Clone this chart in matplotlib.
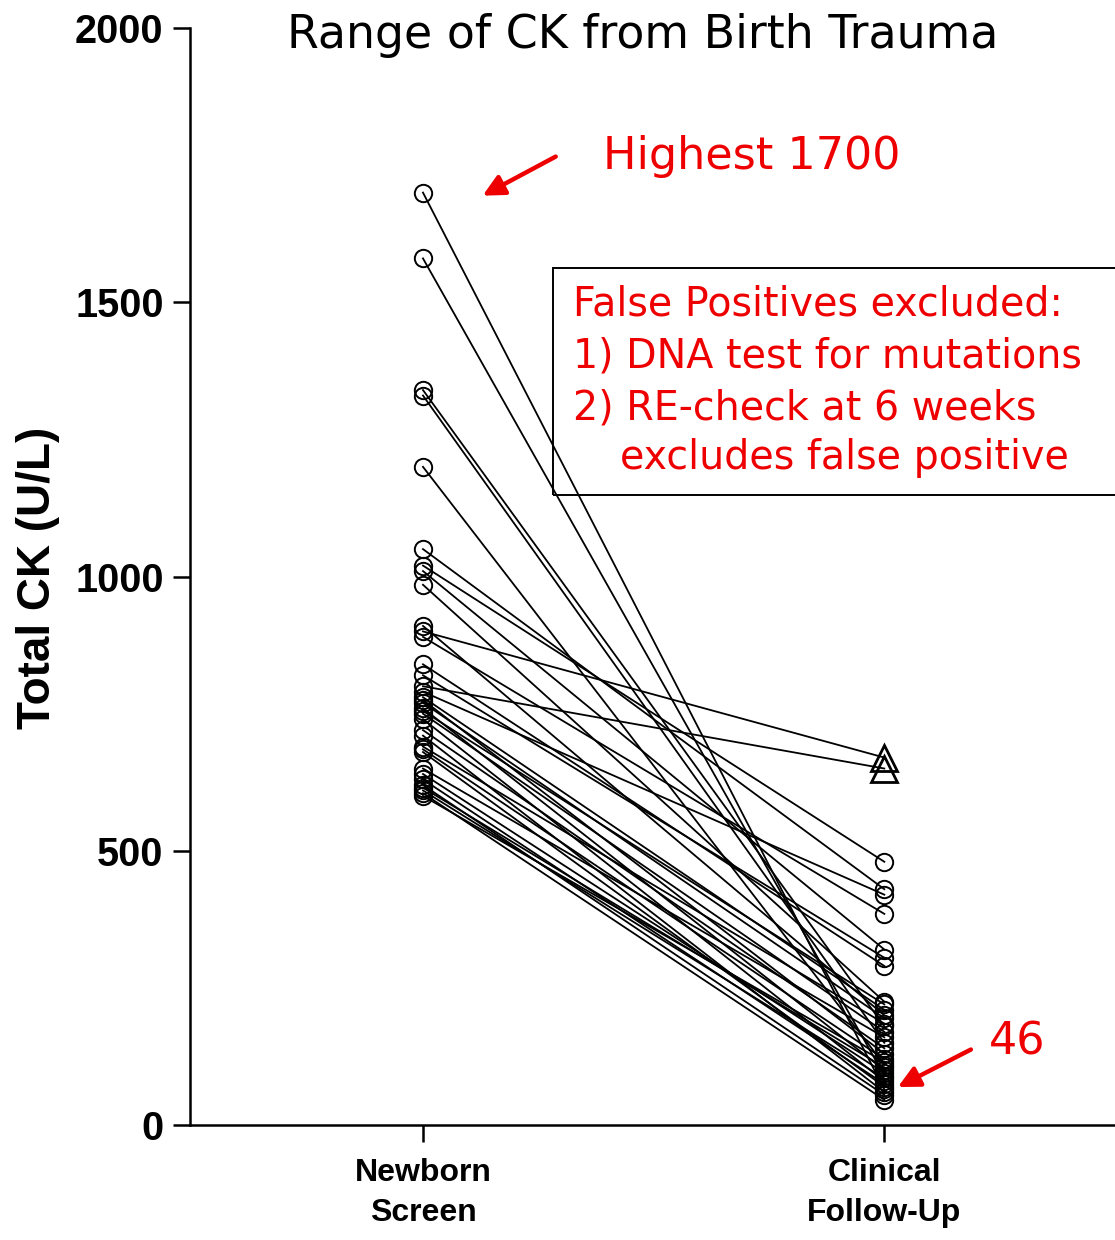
import numpy as np
import matplotlib
matplotlib.use("Agg")
import matplotlib.pyplot as plt
from matplotlib.patches import Rectangle

# Paired CK values (U/L): newborn screen -> clinical follow-up
newborn = [1700, 1580, 1340, 1330, 1200, 1050, 1020, 1010, 985, 910,
           900, 890, 840, 820, 800, 790, 780, 775, 770, 760,
           755, 750, 740, 720, 710, 690, 685, 680, 650, 640,
           630, 620, 615, 610, 605, 600]
followup = [65, 90, 180, 150, 110, 430, 480, 320, 225, 200,
            670, 385, 290, 305, 650, 420, 210, 130, 195, 100,
            220, 170, 80, 140, 60, 185, 120, 70, 160, 95,
            75, 55, 105, 85, 46, 115]
# follow-up values shown as triangles
triangle = [False] * len(newborn)
triangle[10] = True
triangle[14] = True

groups = ["Newborn\nScreen", "Clinical\nFollow-Up"]
yticks = [0, 500, 1000, 1500, 2000]

fig = plt.figure(figsize=(11.15, 12.4), dpi=100)
ax = fig.add_axes([0.1704, 0.0927, 0.8296, 0.8847])

for a, b in zip(newborn, followup):
    ax.plot([0, 1], [a, b], color="black", lw=1.3, zorder=2)

ax.plot(np.zeros(len(newborn)), newborn, "o", ms=12.5, mfc="none",
        mec="black", mew=1.4, zorder=3)
fu = np.array(followup)
tri = np.array(triangle)
ax.plot(np.ones(int((~tri).sum())), fu[~tri], "o", ms=12.5, mfc="none",
        mec="black", mew=1.4, zorder=3)
ax.plot(np.ones(int(tri.sum())), fu[tri], "^", ms=19, mfc="none",
        mec="black", mew=2, zorder=3)

ax.set_xlim(-0.505, 1.50)
ax.set_ylim(0, 2000)
ax.set_xticks([0, 1])
ax.set_xticklabels(groups, fontsize=23, fontweight="bold",
                   family="Liberation Sans", linespacing=1.4)
ax.set_yticks(yticks)
ax.set_yticklabels([str(t) for t in yticks], fontsize=28.5, fontweight="bold",
                   family="Liberation Sans")
ax.tick_params(axis="y", length=12, width=1.8, pad=7, direction="out")
ax.tick_params(axis="x", length=12, width=1.8, pad=12, direction="out")
for s in ["top", "right"]:
    ax.spines[s].set_visible(False)
for s in ["left", "bottom"]:
    ax.spines[s].set_linewidth(1.8)

fig.text(38 / 1115, 1 - 578 / 1240, "Total CK (U/L)", rotation=90,
         ha="center", va="center", fontsize=33, fontweight="bold",
         family="Liberation Sans")

fig.text(643 / 1115, 1 - 35 / 1240, "Range of CK from Birth Trauma",
         ha="center", va="center", fontsize=33, color="black")

# annotations
ax.annotate("", xy=(0.124, 1692), xytext=(0.293, 1768),
            arrowprops=dict(arrowstyle="-|>", color="#ee0000", lw=3.2,
                            mutation_scale=32))
ax.text(0.39, 1765, "Highest 1700", color="#ee0000", fontsize=32,
        ha="left", va="center")
ax.annotate("", xy=(1.024, 67), xytext=(1.193, 140),
            arrowprops=dict(arrowstyle="-|>", color="#ee0000", lw=3.2,
                            mutation_scale=32))
ax.text(1.226, 151, "46", color="#ee0000", fontsize=32, ha="left", va="center")

box = Rectangle((553 / 1115, 1 - 495 / 1240), 0.6, 227 / 1240,
                transform=fig.transFigure, fill=False, edgecolor="black",
                lw=1.4, clip_on=False, zorder=5)
fig.patches.append(box)
lines = [("False Positives excluded:", 573, 305),
         ("1) DNA test for mutations", 573, 357),
         ("2) RE-check at 6 weeks", 573, 408),
         ("excludes false positive", 620, 458)]
for txt, px, py in lines:
    fig.text(px / 1115, 1 - py / 1240, txt, color="#ee0000", fontsize=28.5,
             ha="left", va="center")

fig.savefig("out.png", dpi=100)
